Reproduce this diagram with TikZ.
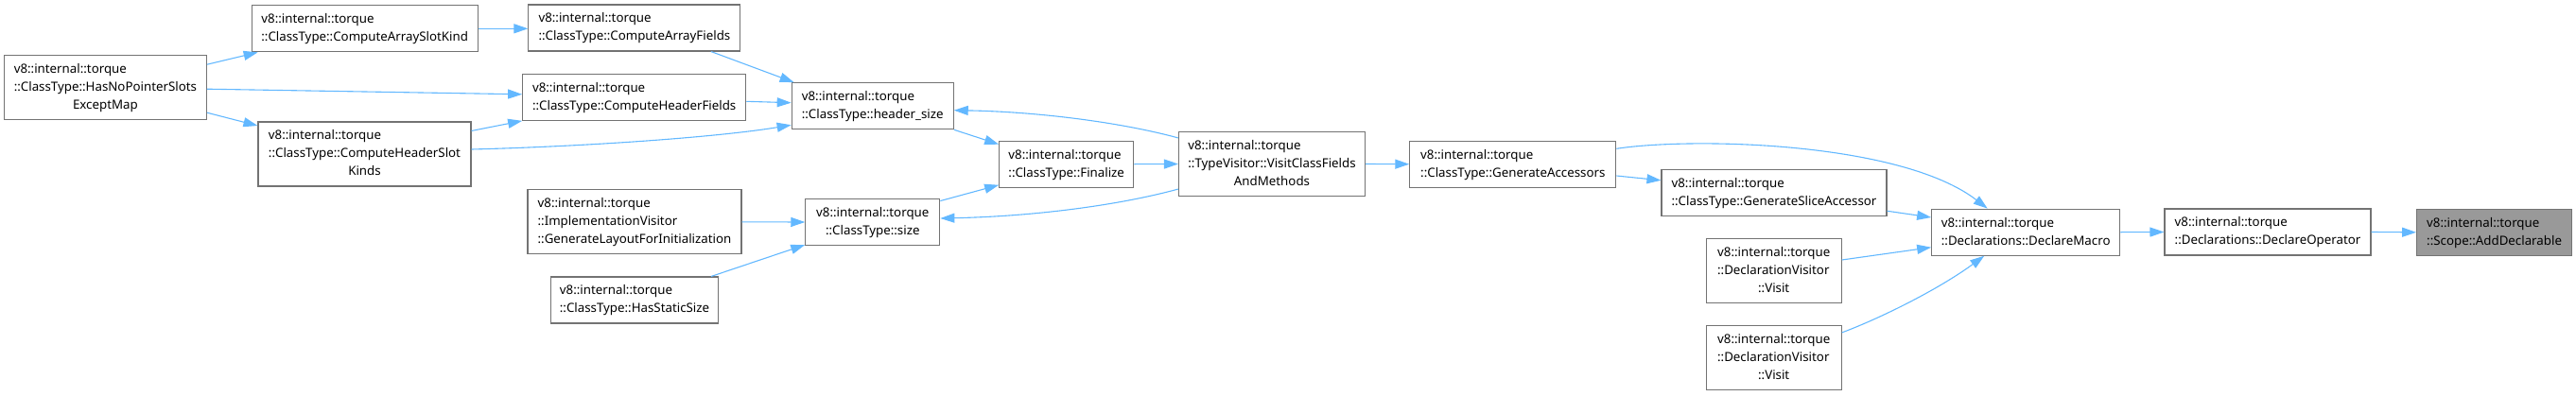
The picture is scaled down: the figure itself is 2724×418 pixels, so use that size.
\documentclass[tikz,border=0pt]{standalone}
\usepackage{fontspec}
\setmainfont{Noto Sans}
\usetikzlibrary{arrows.meta,calc}
\definecolor{edgeblue}{HTML}{63B8FF}
\definecolor{boxgray}{HTML}{737373}
\definecolor{rootgray}{HTML}{999999}
% left-set lines, the last one centred
\newcommand{\twoln}[2]{\begin{tabular}{@{}l@{}}#1\\\multicolumn{1}{@{}c@{}}{#2}\end{tabular}}
\newcommand{\threeln}[3]{\begin{tabular}{@{}l@{}}#1\\#2\\\multicolumn{1}{@{}c@{}}{#3}\end{tabular}}
\newcommand{\tns}{v8::internal::torque}

\begin{document}
\begin{tikzpicture}[x=1pt, y=-1pt,
    fn/.style={draw=boxgray, line width=1.1pt, fill=white, inner xsep=0pt,
               inner ysep=5.5pt, font=\fontsize{13.3}{19}\selectfont},
    root/.style={fn, fill=rootgray},
    call/.style={edgeblue, line width=1.1pt, -{Triangle[length=15pt,width=10pt]}}]
  \useasboundingbox (0,0) rectangle (2724,418);
  % header and size queries
  \node[fn, minimum width=214] (hnp)  at (111.4,92.2)  {\threeln{\tns}{::ClassType::HasNoPointerSlots}{ExceptMap}};
  \node[fn, minimum width=239] (casK) at (385.7,30.3)  {\twoln{\tns}{::ClassType::ComputeArraySlotKind}};
  \node[fn, minimum width=225] (chsK) at (385.5,163)   {\threeln{\tns}{::ClassType::ComputeHeaderSlot}{Kinds}};
  \node[fn, minimum width=224] (caf)  at (670.9,29.5)  {\twoln{\tns}{::ClassType::ComputeArrayFields}};
  \node[fn, minimum width=236] (chf)  at (670.7,102.8) {\twoln{\tns}{::ClassType::ComputeHeaderFields}};
  \node[fn, minimum width=226] (glfi) at (671,234.8)   {\threeln{\tns}{::ImplementationVisitor}{::GenerateLayoutForInitialization}};
  \node[fn, minimum width=177] (hss)  at (671,317.5)   {\twoln{\tns}{::ClassType::HasStaticSize}};
  \node[fn, minimum width=171] (hs)   at (922.7,112.2) {\twoln{\tns}{::ClassType::header\_size}};
  \node[fn, minimum width=142] (sz)   at (922.8,235)   {\twoln{\tns}{::ClassType::size}};
  \node[fn, minimum width=142] (fin)  at (1127.7,173.7) {\twoln{\tns}{::ClassType::Finalize}};
  \node[fn, minimum width=197] (vcf)  at (1345,173.5)  {\threeln{\tns}{::TypeVisitor::VisitClassFields}{AndMethods}};
  \node[fn, minimum width=218] (ga)   at (1599.8,173.7) {\twoln{\tns}{::ClassType::GenerateAccessors}};
  % declarations
  \node[fn, minimum width=238] (gsa)  at (1876,203.8)  {\twoln{\tns}{::ClassType::GenerateSliceAccessor}};
  \node[fn, minimum width=143] (dv1)  at (1875.7,286.7) {\threeln{\tns}{::DeclarationVisitor}{::Visit}};
  \node[fn, minimum width=143] (dv2)  at (1875.7,378.9) {\threeln{\tns}{::DeclarationVisitor}{::Visit}};
  \node[fn, minimum width=199] (dm)   at (2142.2,245.7) {\twoln{\tns}{::Declarations::DeclareMacro}};
  \node[fn, minimum width=218] (dop)  at (2398,245.5)  {\twoln{\tns}{::Declarations::DeclareOperator}};
  \node[root, minimum width=164] (ad) at (2637.6,245.8) {\twoln{\tns}{::Scope::AddDeclarable}};

  % calls
  \draw[call] ($(hnp.east)+(0,-24)$) -- ($(casK.south west)+(7,0)$);
  \draw[call] ($(hnp.east)+(0,2)$) -- ($(chf.west)+(0,-3)$);
  \draw[call] ($(hnp.east)+(0,27)$) -- ($(chsK.west)+(0,-30)$);
  \draw[call] (casK.east) -- (casK.east -| caf.west);
  \draw[call] ($(caf.south)+(81,0)$) -- ($(hs.north west)+(3,0)$);
  \draw[call] ($(chf.east)+(0,4.5)$) -- ($(hs.west)+(0,-3.5)$);
  \draw[call] ($(chsK.north east)+(0,10)$) -- (chf.south west);
  \draw[call] ($(chsK.east)+(0,-5)$) .. controls (620,155) and (760,145) .. ($(hs.south west)+(0,-5)$);
  \draw[call] (hs.south east) -- ($(fin.west)+(0,-21)$);
  \draw[call] ($(sz.north east)+(0,2.6)$) -- ($(fin.south west)+(0,-3)$);
  \draw[call] (glfi.east) -- (sz.west);
  \draw[call] ($(hss.north)+(81,0)$) -- ($(sz.south west)+(0,-1)$);
  \draw[call] (fin.east) -- (vcf.west);
  \draw[call] ($(vcf.north west)+(0,7)$) .. controls (1180,128) and (1090,118) .. ($(hs.east)+(0,4.5)$);
  \draw[call] ($(vcf.south west)+(0,-8)$) .. controls (1180,218) and (1090,229) .. ($(sz.east)+(0,-4)$);
  \draw[call] (vcf.east) -- (ga.west);
  \draw[call] ($(ga.east)+(0,12.3)$) -- ($(gsa.west)+(0,-13)$);
  \draw[call] ($(ga.east)+(0,-16.4)$) .. controls (1790,145) and (2010,150) .. ($(dm.north)+(-40.5,0)$);
  \draw[call] ($(gsa.south east)+(0,-5.6)$) -- ($(dm.west)+(0,-15.7)$);
  \draw[call] ($(dv1.east)+(0,-11.7)$) -- ($(dm.west)+(0,16)$);
  \draw[call] ($(dv2.east)+(0,-27)$) .. controls (1990,336) and (2050,306) .. ($(dm.south)+(-44,0)$);
  \draw[call] (dm.east) -- (dop.west);
  \draw[call] (dop.east) -- (ad.west);
\end{tikzpicture}
\end{document}
